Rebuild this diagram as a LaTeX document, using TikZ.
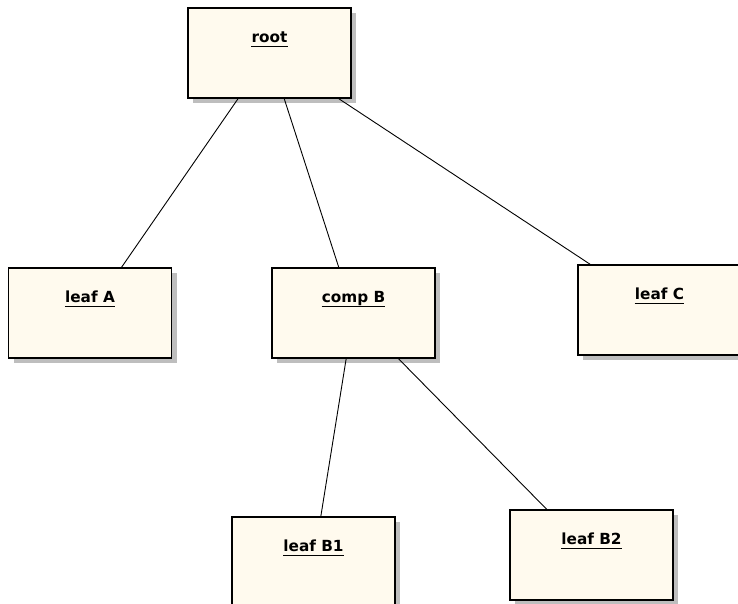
\documentclass[tikz,border=0pt]{standalone}
\usepackage{fontspec}
\setmainfont{DejaVu Sans}
\usetikzlibrary{shadows}
\definecolor{boxfill}{RGB}{255,250,238}
\definecolor{shadowgray}{RGB}{190,190,190}
\tikzset{
  classbox/.style={draw=black, line width=1.6pt, fill=boxfill, rectangle,
    minimum width=163pt, minimum height=90pt, inner sep=0pt,
    drop shadow={shadow xshift=5pt, shadow yshift=-5pt, opacity=1, fill=shadowgray}},
  lbl/.style={anchor=base, inner sep=0pt, font=\fontsize{15.3}{18}\selectfont\bfseries, text=black},
  uline/.style={line width=1.3pt, black},
  link/.style={line width=0.9pt, black}
}
\newcommand{\boxlabel}[3]{%
  \node[lbl] (#1) at ([yshift=-35pt]#2.north) {#3};
  \draw[uline] ([yshift=-4.5pt]#1.base west) -- ([yshift=-4.5pt]#1.base east);
}
\begin{document}
\begin{tikzpicture}[x=1pt,y=-1pt]
\useasboundingbox (0,0) rectangle (738,604);
\clip (0,0) rectangle (738,604);
\fill[white] (0,0) rectangle (738,604);
\node[classbox] (root)  at (269.5,53) {};
\node[classbox] (leafA) at (90,313) {};
\node[classbox] (compB) at (353.5,313) {};
\node[classbox] (leafC) at (659.5,310) {};
\node[classbox] (leafB1) at (313.5,562) {};
\node[classbox] (leafB2) at (591.5,555) {};
\draw[link] (root) -- (leafA);
\draw[link] (root) -- (compB);
\draw[link] (root) -- (leafC);
\draw[link] (compB) -- (leafB1);
\draw[link] (compB) -- (leafB2);
\boxlabel{rootT}{root}{root}
\boxlabel{leafAT}{leafA}{leaf A}
\boxlabel{compBT}{compB}{comp B}
\boxlabel{leafCT}{leafC}{leaf C}
\boxlabel{leafBoneT}{leafB1}{leaf B1}
\boxlabel{leafBtwoT}{leafB2}{leaf B2}
\end{tikzpicture}
\end{document}
